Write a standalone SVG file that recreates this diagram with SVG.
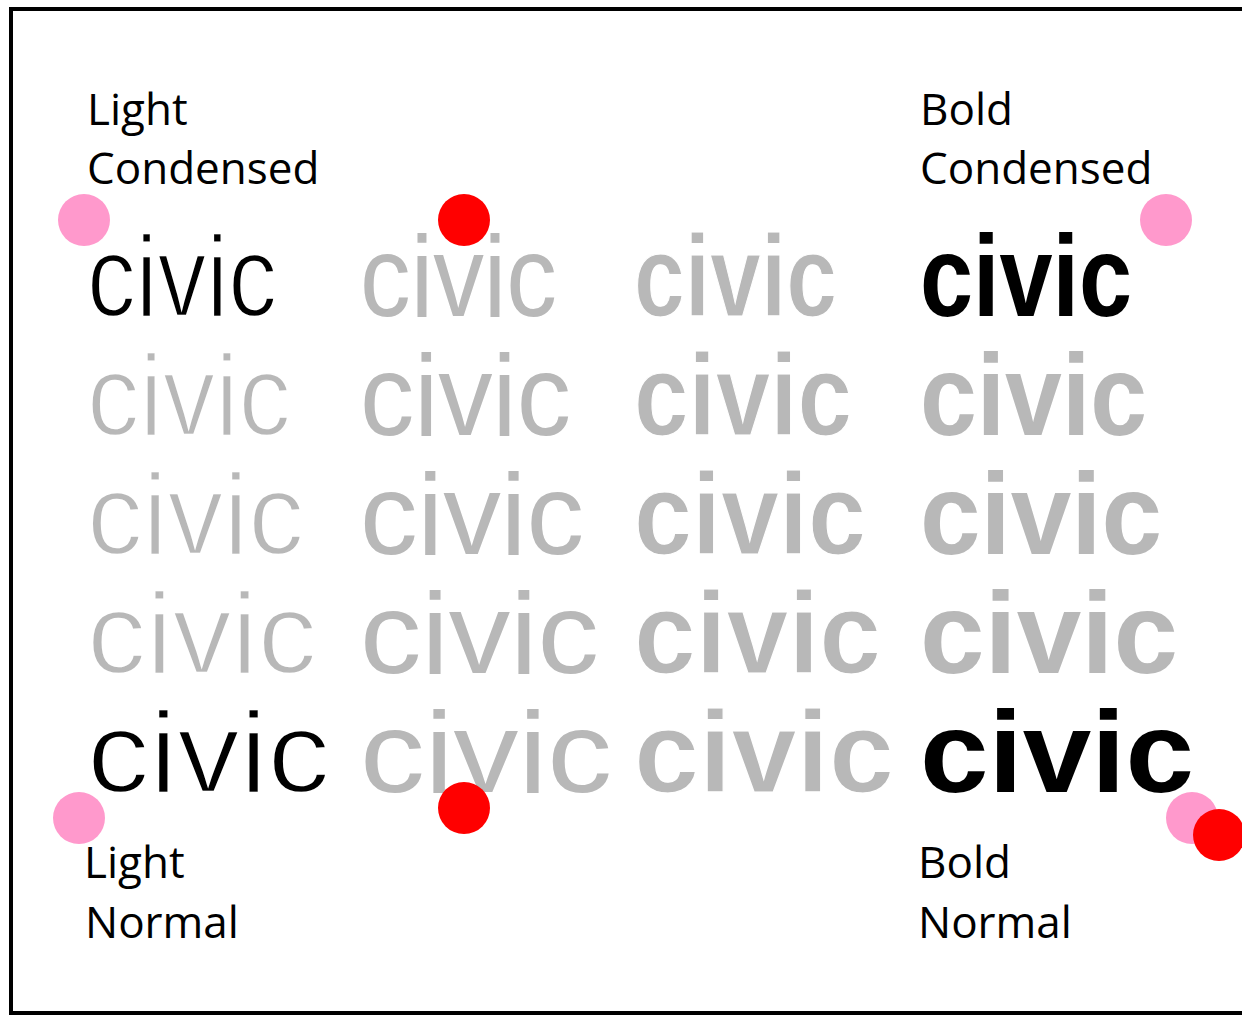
<svg xmlns="http://www.w3.org/2000/svg" width="1242" height="1016" viewBox="0 0 1242 1016">
<style>
.lbl{font-family:"Open Sans","Noto Sans",sans-serif;font-size:44px;fill:#000}
.w{font-family:"Liberation Sans",Arial,sans-serif;font-size:115px}
.k{fill:#000}
.g{fill:#b8b8b8}
.light{font-weight:400;stroke:#fff;stroke-width:2.5px}
.reg{font-weight:400}
.semi{font-weight:700;stroke:#fff;stroke-width:1.2px}
.bold{font-weight:700}
.pink{fill:#ff99cc}
.red{fill:#ff0000}
</style>
<rect x="0" y="0" width="1242" height="1016" fill="#fff"/>
<rect x="11" y="9" width="1250" height="1004" fill="none" stroke="#000" stroke-width="4"/>
<g id="labels">
<g id="label-light-condensed"><text class="lbl" x="87" y="125">Light</text><text class="lbl" x="87" y="184">Condensed</text></g>
<g id="label-bold-condensed"><text class="lbl" x="920" y="125">Bold</text><text class="lbl" x="920" y="184">Condensed</text></g>
<g id="label-light-normal"><text class="lbl" x="84" y="878">Light</text><text class="lbl" x="85" y="938">Normal</text></g>
<g id="label-bold-normal"><text class="lbl" x="918" y="878">Bold</text><text class="lbl" x="918" y="938">Normal</text></g>
</g>
<g id="grid">
<g id="row1">
<text class="w k light" x="87" y="316" textLength="190" lengthAdjust="spacingAndGlyphs">civic</text>
<text class="w g reg" x="360" y="316" textLength="197" lengthAdjust="spacingAndGlyphs">civic</text>
<text class="w g semi" x="634" y="316" textLength="203" lengthAdjust="spacingAndGlyphs">civic</text>
<text class="w k bold" x="920" y="316" textLength="212" lengthAdjust="spacingAndGlyphs">civic</text>
</g>
<g id="row2">
<text class="w g light" x="87" y="435" textLength="204" lengthAdjust="spacingAndGlyphs">civic</text>
<text class="w g reg" x="360" y="435" textLength="211" lengthAdjust="spacingAndGlyphs">civic</text>
<text class="w g semi" x="634" y="435" textLength="218" lengthAdjust="spacingAndGlyphs">civic</text>
<text class="w g bold" x="920" y="435" textLength="227" lengthAdjust="spacingAndGlyphs">civic</text>
</g>
<g id="row3">
<text class="w g light" x="87" y="554" textLength="217" lengthAdjust="spacingAndGlyphs">civic</text>
<text class="w g reg" x="360" y="554" textLength="224" lengthAdjust="spacingAndGlyphs">civic</text>
<text class="w g semi" x="634" y="554" textLength="232" lengthAdjust="spacingAndGlyphs">civic</text>
<text class="w g bold" x="920" y="554" textLength="242" lengthAdjust="spacingAndGlyphs">civic</text>
</g>
<g id="row4">
<text class="w g light" x="87" y="673" textLength="230" lengthAdjust="spacingAndGlyphs">civic</text>
<text class="w g reg" x="360" y="673" textLength="239" lengthAdjust="spacingAndGlyphs">civic</text>
<text class="w g semi" x="634" y="673" textLength="247" lengthAdjust="spacingAndGlyphs">civic</text>
<text class="w g bold" x="920" y="673" textLength="258" lengthAdjust="spacingAndGlyphs">civic</text>
</g>
<g id="row5">
<text class="w k light" x="87" y="792" textLength="243" lengthAdjust="spacingAndGlyphs">civic</text>
<text class="w g reg" x="360" y="792" textLength="252" lengthAdjust="spacingAndGlyphs">civic</text>
<text class="w g semi" x="634" y="792" textLength="260" lengthAdjust="spacingAndGlyphs">civic</text>
<text class="w k bold" x="920" y="792" textLength="274" lengthAdjust="spacingAndGlyphs">civic</text>
</g>
</g>
<g id="markers">
<circle id="pink-tl" class="pink" cx="84" cy="220" r="26"/>
<circle id="red-top" class="red" cx="464" cy="220" r="26"/>
<circle id="pink-tr" class="pink" cx="1166" cy="220" r="26"/>
<circle id="pink-bl" class="pink" cx="79" cy="818" r="26"/>
<circle id="red-bottom" class="red" cx="464" cy="808" r="26"/>
<circle id="pink-br" class="pink" cx="1192" cy="818" r="26"/>
<circle id="red-br" class="red" cx="1219" cy="835" r="26"/>
</g>
</svg>
